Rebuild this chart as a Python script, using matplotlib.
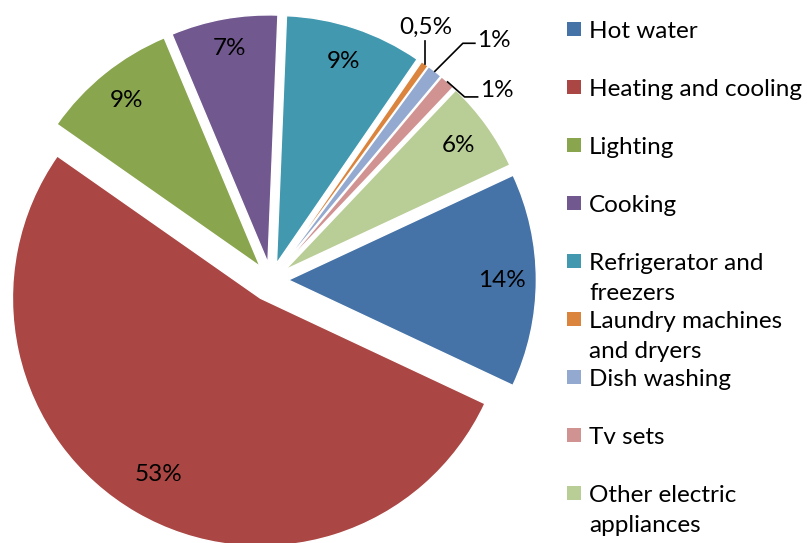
import matplotlib
matplotlib.use("Agg")
import matplotlib.pyplot as plt
import numpy as np
from matplotlib.patches import Rectangle

categories = ["Hot water", "Heating and cooling", "Lighting", "Cooking",
              "Refrigerator and freezers", "Laundry machines and dryers",
              "Dish washing", "Tv sets", "Other electric appliances"]
legend_labels = ["Hot water", "Heating and cooling", "Lighting", "Cooking",
                 "Refrigerator and\nfreezers", "Laundry machines\nand dryers",
                 "Dish washing", "Tv sets", "Other electric\nappliances"]
shares = [14, 53, 9, 7, 9, 0.5, 1, 1, 6]
share_labels = ["14%", "53%", "9%", "7%", "9%", "0,5%", "1%", "1%", "6%"]
colors = ["#4572A7", "#AA4643", "#89A54E", "#71588F", "#4198AF",
          "#DB843D", "#93A9CF", "#D19392", "#B9CD96"]

plt.rcParams['font.family'] = ['Lato', 'DejaVu Sans']
FS = 17.5

W, H = 807, 543
fig = plt.figure(figsize=(W / 100, H / 100), dpi=100)
ax = fig.add_axes([0, 0, 1, 1])

R = 248
explode_frac = [0.07, 0.085, 0.07, 0.07, 0.07, 0.07, 0.07, 0.07, 0.07]
label_dist = [0.86, 0.82, 0.86, 0.88, 0.86, 0, 0, 0, 0.86]
wedges, _ = ax.pie(shares, colors=colors,
                   explode=[e * R for e in explode_frac], startangle=25,
                   counterclock=False, center=(271, H - 280), radius=R,
                   wedgeprops=dict(edgecolor='white', linewidth=1))
ax.set_xlim(0, W)
ax.set_ylim(0, H)
ax.set_aspect('equal')
ax.axis('off')

small = {5: "laundry", 6: "dish", 7: "tv"}
for i, w in enumerate(wedges):
    mid = np.deg2rad((w.theta1 + w.theta2) / 2)
    cx, cy = w.center
    r = w.r
    if i not in small:
        d = label_dist[i] * r
        ax.text(cx + d * np.cos(mid), cy + d * np.sin(mid), share_labels[i],
                ha='center', va='center', fontsize=FS, color='black')
    else:
        tx, ty = cx + r * np.cos(mid), cy + r * np.sin(mid)
        if small[i] == "laundry":
            ax.plot([tx, tx], [ty, ty + 23], color='black', lw=1.2)
            ax.text(tx + 1, ty + 36, share_labels[i], ha='center',
                    va='center', fontsize=FS)
        elif small[i] == "dish":
            ex, ey = tx + 28, ty + 28
            ax.plot([tx, ex, ex + 12], [ty, ey, ey], color='black', lw=1.2)
            ax.text(ex + 14, ey + 3, share_labels[i], ha='left',
                    va='center', fontsize=FS)
        else:
            ex, ey = tx + 17, ty - 15
            ax.plot([tx, ex, ex + 13], [ty, ey, ey], color='black', lw=1.2)
            ax.text(ex + 15, ey + 6, share_labels[i], ha='left',
                    va='center', fontsize=FS)

# legend (Excel-style fixed row grid)
row0, step, line_gap = 29, 58, 31
for i, (lab, col) in enumerate(zip(legend_labels, colors)):
    ys = row0 + step * i
    ax.add_patch(Rectangle((567, H - ys - 7), 14, 14, facecolor=col,
                           edgecolor='none'))
    for k, line in enumerate(lab.split("\n")):
        ax.text(589, H - ys - k * line_gap, line, ha='left',
                va='center_baseline', fontsize=FS, color='black')

fig.savefig("out.png", dpi=100, facecolor='white')
